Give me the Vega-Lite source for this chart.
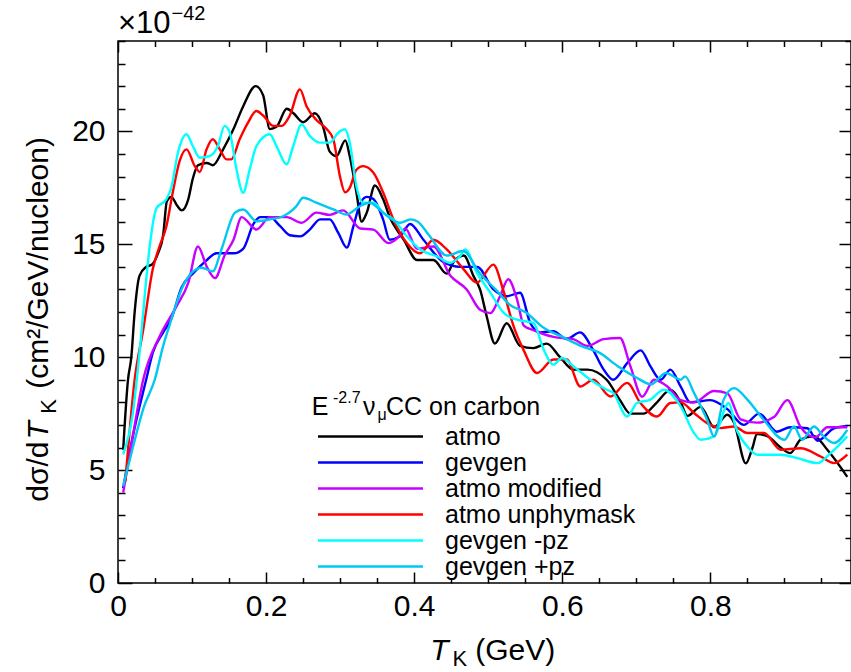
{
  "$schema": "https://vega.github.io/schema/vega-lite/v6.json",
  "width": 733,
  "height": 542,
  "autosize": "none",
  "padding": {"left": 118, "top": 41, "right": 0, "bottom": 89},
  "background": "white",
  "config": {
    "view": {"stroke": "#000", "strokeWidth": 1.5},
    "font": "Liberation Sans",
    "axis": {"grid": false, "domain": false, "tickColor": "#000", "tickWidth": 1.5, "labelColor": "#000", "labelFont": "Liberation Sans", "labelFontSize": 30, "labelOverlap": false, "labelFlush": false, "title": null}
  },
  "datasets": {
    "curves": [
      {"s":"atmo","x":0.007,"y":5.9},{"s":"atmo","x":0.0135,"y":9.0},{"s":"atmo","x":0.018,"y":10.0},{"s":"atmo","x":0.0225,"y":12.0},{"s":"atmo","x":0.029,"y":13.6},{"s":"atmo","x":0.038,"y":14.0},{"s":"atmo","x":0.046,"y":14.1},{"s":"atmo","x":0.054,"y":14.6},{"s":"atmo","x":0.061,"y":15.4},{"s":"atmo","x":0.066,"y":16.9},{"s":"atmo","x":0.072,"y":17.1},{"s":"atmo","x":0.08,"y":16.7},{"s":"atmo","x":0.086,"y":16.5},{"s":"atmo","x":0.095,"y":17.0},{"s":"atmo","x":0.101,"y":17.9},{"s":"atmo","x":0.108,"y":18.5},{"s":"atmo","x":0.12,"y":18.6},{"s":"atmo","x":0.128,"y":18.5},{"s":"atmo","x":0.142,"y":19.2},{"s":"atmo","x":0.156,"y":20.1},{"s":"atmo","x":0.169,"y":21.1},{"s":"atmo","x":0.186,"y":22.0},{"s":"atmo","x":0.196,"y":21.6},{"s":"atmo","x":0.205,"y":20.1},{"s":"atmo","x":0.214,"y":20.2},{"s":"atmo","x":0.228,"y":21.0},{"s":"atmo","x":0.237,"y":20.8},{"s":"atmo","x":0.25,"y":20.4},{"s":"atmo","x":0.266,"y":20.8},{"s":"atmo","x":0.277,"y":20.2},{"s":"atmo","x":0.286,"y":19.1},{"s":"atmo","x":0.295,"y":18.9},{"s":"atmo","x":0.307,"y":19.6},{"s":"atmo","x":0.313,"y":18.9},{"s":"atmo","x":0.322,"y":17.3},{"s":"atmo","x":0.329,"y":16.0},{"s":"atmo","x":0.336,"y":16.4},{"s":"atmo","x":0.347,"y":17.6},{"s":"atmo","x":0.358,"y":17.0},{"s":"atmo","x":0.367,"y":16.2},{"s":"atmo","x":0.386,"y":15.2},{"s":"atmo","x":0.404,"y":14.3},{"s":"atmo","x":0.426,"y":14.3},{"s":"atmo","x":0.444,"y":13.7},{"s":"atmo","x":0.453,"y":14.2},{"s":"atmo","x":0.467,"y":14.5},{"s":"atmo","x":0.48,"y":13.6},{"s":"atmo","x":0.489,"y":13.0},{"s":"atmo","x":0.498,"y":11.8},{"s":"atmo","x":0.509,"y":10.6},{"s":"atmo","x":0.525,"y":11.5},{"s":"atmo","x":0.543,"y":10.5},{"s":"atmo","x":0.561,"y":10.4},{"s":"atmo","x":0.579,"y":10.6},{"s":"atmo","x":0.597,"y":10.0},{"s":"atmo","x":0.615,"y":9.45},{"s":"atmo","x":0.634,"y":9.45},{"s":"atmo","x":0.66,"y":9.0},{"s":"atmo","x":0.678,"y":8.1},{"s":"atmo","x":0.692,"y":7.5},{"s":"atmo","x":0.71,"y":7.5},{"s":"atmo","x":0.728,"y":8.0},{"s":"atmo","x":0.746,"y":8.55},{"s":"atmo","x":0.76,"y":8.0},{"s":"atmo","x":0.769,"y":7.4},{"s":"atmo","x":0.787,"y":7.8},{"s":"atmo","x":0.805,"y":6.9},{"s":"atmo","x":0.823,"y":7.45},{"s":"atmo","x":0.832,"y":7.1},{"s":"atmo","x":0.848,"y":5.3},{"s":"atmo","x":0.857,"y":6.0},{"s":"atmo","x":0.863,"y":6.6},{"s":"atmo","x":0.877,"y":6.5},{"s":"atmo","x":0.895,"y":6.0},{"s":"atmo","x":0.908,"y":5.75},{"s":"atmo","x":0.922,"y":6.35},{"s":"atmo","x":0.94,"y":6.5},{"s":"atmo","x":0.958,"y":5.9},{"s":"atmo","x":0.985,"y":4.7},
      {"s":"gevgen","x":0.007,"y":4.2},{"s":"gevgen","x":0.02,"y":6.5},{"s":"gevgen","x":0.038,"y":9.0},{"s":"gevgen","x":0.047,"y":10.2},{"s":"gevgen","x":0.061,"y":11.1},{"s":"gevgen","x":0.072,"y":11.7},{"s":"gevgen","x":0.086,"y":13.1},{"s":"gevgen","x":0.101,"y":13.7},{"s":"gevgen","x":0.11,"y":14.0},{"s":"gevgen","x":0.12,"y":14.3},{"s":"gevgen","x":0.133,"y":14.6},{"s":"gevgen","x":0.156,"y":14.6},{"s":"gevgen","x":0.169,"y":14.8},{"s":"gevgen","x":0.183,"y":15.9},{"s":"gevgen","x":0.192,"y":16.2},{"s":"gevgen","x":0.205,"y":16.2},{"s":"gevgen","x":0.219,"y":15.8},{"s":"gevgen","x":0.232,"y":15.4},{"s":"gevgen","x":0.246,"y":15.35},{"s":"gevgen","x":0.259,"y":15.65},{"s":"gevgen","x":0.273,"y":16.1},{"s":"gevgen","x":0.286,"y":16.1},{"s":"gevgen","x":0.2975,"y":15.5},{"s":"gevgen","x":0.309,"y":14.85},{"s":"gevgen","x":0.318,"y":15.8},{"s":"gevgen","x":0.327,"y":16.8},{"s":"gevgen","x":0.336,"y":17.1},{"s":"gevgen","x":0.345,"y":17.0},{"s":"gevgen","x":0.358,"y":16.1},{"s":"gevgen","x":0.367,"y":15.2},{"s":"gevgen","x":0.381,"y":15.35},{"s":"gevgen","x":0.3945,"y":15.9},{"s":"gevgen","x":0.4125,"y":15.2},{"s":"gevgen","x":0.44,"y":14.2},{"s":"gevgen","x":0.462,"y":14.0},{"s":"gevgen","x":0.485,"y":14.0},{"s":"gevgen","x":0.507,"y":13.0},{"s":"gevgen","x":0.525,"y":12.7},{"s":"gevgen","x":0.543,"y":12.85},{"s":"gevgen","x":0.557,"y":11.5},{"s":"gevgen","x":0.57,"y":11.1},{"s":"gevgen","x":0.588,"y":11.15},{"s":"gevgen","x":0.606,"y":10.8},{"s":"gevgen","x":0.624,"y":11.1},{"s":"gevgen","x":0.642,"y":10.3},{"s":"gevgen","x":0.656,"y":9.45},{"s":"gevgen","x":0.669,"y":9.0},{"s":"gevgen","x":0.688,"y":9.75},{"s":"gevgen","x":0.706,"y":10.3},{"s":"gevgen","x":0.719,"y":9.6},{"s":"gevgen","x":0.733,"y":9.0},{"s":"gevgen","x":0.746,"y":9.45},{"s":"gevgen","x":0.76,"y":8.7},{"s":"gevgen","x":0.773,"y":8.0},{"s":"gevgen","x":0.8,"y":8.1},{"s":"gevgen","x":0.823,"y":7.7},{"s":"gevgen","x":0.845,"y":7.0},{"s":"gevgen","x":0.866,"y":7.5},{"s":"gevgen","x":0.89,"y":6.7},{"s":"gevgen","x":0.908,"y":6.9},{"s":"gevgen","x":0.931,"y":6.85},{"s":"gevgen","x":0.945,"y":6.3},{"s":"gevgen","x":0.967,"y":6.85},{"s":"gevgen","x":0.985,"y":6.95},
      {"s":"atmo modified","x":0.007,"y":4.0},{"s":"atmo modified","x":0.02,"y":6.5},{"s":"atmo modified","x":0.034,"y":9.0},{"s":"atmo modified","x":0.056,"y":10.9},{"s":"atmo modified","x":0.079,"y":12.25},{"s":"atmo modified","x":0.095,"y":13.3},{"s":"atmo modified","x":0.108,"y":14.9},{"s":"atmo modified","x":0.12,"y":14.0},{"s":"atmo modified","x":0.131,"y":13.5},{"s":"atmo modified","x":0.144,"y":14.5},{"s":"atmo modified","x":0.156,"y":15.2},{"s":"atmo modified","x":0.167,"y":16.2},{"s":"atmo modified","x":0.187,"y":15.65},{"s":"atmo modified","x":0.205,"y":16.2},{"s":"atmo modified","x":0.228,"y":16.2},{"s":"atmo modified","x":0.248,"y":15.95},{"s":"atmo modified","x":0.268,"y":16.4},{"s":"atmo modified","x":0.286,"y":16.3},{"s":"atmo modified","x":0.304,"y":16.5},{"s":"atmo modified","x":0.327,"y":15.7},{"s":"atmo modified","x":0.345,"y":15.65},{"s":"atmo modified","x":0.365,"y":15.05},{"s":"atmo modified","x":0.381,"y":15.4},{"s":"atmo modified","x":0.388,"y":15.7},{"s":"atmo modified","x":0.404,"y":14.8},{"s":"atmo modified","x":0.426,"y":14.9},{"s":"atmo modified","x":0.449,"y":13.6},{"s":"atmo modified","x":0.471,"y":13.0},{"s":"atmo modified","x":0.489,"y":12.1},{"s":"atmo modified","x":0.503,"y":11.95},{"s":"atmo modified","x":0.516,"y":12.7},{"s":"atmo modified","x":0.527,"y":13.45},{"s":"atmo modified","x":0.539,"y":12.55},{"s":"atmo modified","x":0.548,"y":11.4},{"s":"atmo modified","x":0.561,"y":11.2},{"s":"atmo modified","x":0.588,"y":10.9},{"s":"atmo modified","x":0.615,"y":10.8},{"s":"atmo modified","x":0.634,"y":10.5},{"s":"atmo modified","x":0.656,"y":10.8},{"s":"atmo modified","x":0.678,"y":10.85},{"s":"atmo modified","x":0.692,"y":9.6},{"s":"atmo modified","x":0.708,"y":8.25},{"s":"atmo modified","x":0.724,"y":9.0},{"s":"atmo modified","x":0.742,"y":8.7},{"s":"atmo modified","x":0.76,"y":8.1},{"s":"atmo modified","x":0.778,"y":8.0},{"s":"atmo modified","x":0.805,"y":8.5},{"s":"atmo modified","x":0.823,"y":8.4},{"s":"atmo modified","x":0.841,"y":7.25},{"s":"atmo modified","x":0.863,"y":7.1},{"s":"atmo modified","x":0.886,"y":7.35},{"s":"atmo modified","x":0.904,"y":8.1},{"s":"atmo modified","x":0.922,"y":6.9},{"s":"atmo modified","x":0.942,"y":6.45},{"s":"atmo modified","x":0.958,"y":6.9},{"s":"atmo modified","x":0.985,"y":6.9},
      {"s":"atmo unphymask","x":0.01,"y":4.5},{"s":"atmo unphymask","x":0.0225,"y":9.0},{"s":"atmo unphymask","x":0.034,"y":11.2},{"s":"atmo unphymask","x":0.047,"y":13.9},{"s":"atmo unphymask","x":0.056,"y":14.9},{"s":"atmo unphymask","x":0.0654,"y":15.8},{"s":"atmo unphymask","x":0.074,"y":17.3},{"s":"atmo unphymask","x":0.0834,"y":18.7},{"s":"atmo unphymask","x":0.0925,"y":19.2},{"s":"atmo unphymask","x":0.1037,"y":18.46},{"s":"atmo unphymask","x":0.1105,"y":18.2},{"s":"atmo unphymask","x":0.1196,"y":19.2},{"s":"atmo unphymask","x":0.128,"y":19.65},{"s":"atmo unphymask","x":0.1375,"y":19.2},{"s":"atmo unphymask","x":0.1466,"y":18.76},{"s":"atmo unphymask","x":0.153,"y":18.76},{"s":"atmo unphymask","x":0.1643,"y":19.65},{"s":"atmo unphymask","x":0.1758,"y":20.4},{"s":"atmo unphymask","x":0.187,"y":20.9},{"s":"atmo unphymask","x":0.196,"y":20.7},{"s":"atmo unphymask","x":0.21,"y":20.24},{"s":"atmo unphymask","x":0.221,"y":20.24},{"s":"atmo unphymask","x":0.232,"y":20.7},{"s":"atmo unphymask","x":0.2457,"y":21.86},{"s":"atmo unphymask","x":0.2548,"y":21.1},{"s":"atmo unphymask","x":0.268,"y":20.5},{"s":"atmo unphymask","x":0.2818,"y":20.1},{"s":"atmo unphymask","x":0.2908,"y":19.65},{"s":"atmo unphymask","x":0.2998,"y":18.0},{"s":"atmo unphymask","x":0.3066,"y":17.3},{"s":"atmo unphymask","x":0.313,"y":17.5},{"s":"atmo unphymask","x":0.322,"y":18.3},{"s":"atmo unphymask","x":0.331,"y":18.46},{"s":"atmo unphymask","x":0.345,"y":18.17},{"s":"atmo unphymask","x":0.358,"y":17.3},{"s":"atmo unphymask","x":0.372,"y":16.1},{"s":"atmo unphymask","x":0.39,"y":15.06},{"s":"atmo unphymask","x":0.408,"y":14.6},{"s":"atmo unphymask","x":0.426,"y":15.2},{"s":"atmo unphymask","x":0.444,"y":14.77},{"s":"atmo unphymask","x":0.4666,"y":13.9},{"s":"atmo unphymask","x":0.4847,"y":13.3},{"s":"atmo unphymask","x":0.507,"y":14.1},{"s":"atmo unphymask","x":0.52,"y":13.0},{"s":"atmo unphymask","x":0.534,"y":11.4},{"s":"atmo unphymask","x":0.548,"y":10.3},{"s":"atmo unphymask","x":0.566,"y":9.3},{"s":"atmo unphymask","x":0.588,"y":9.9},{"s":"atmo unphymask","x":0.606,"y":9.9},{"s":"atmo unphymask","x":0.6244,"y":8.7},{"s":"atmo unphymask","x":0.642,"y":9.0},{"s":"atmo unphymask","x":0.665,"y":8.26},{"s":"atmo unphymask","x":0.6876,"y":8.86},{"s":"atmo unphymask","x":0.7056,"y":7.97},{"s":"atmo unphymask","x":0.728,"y":7.37},{"s":"atmo unphymask","x":0.746,"y":7.97},{"s":"atmo unphymask","x":0.76,"y":8.0},{"s":"atmo unphymask","x":0.778,"y":7.53},{"s":"atmo unphymask","x":0.7957,"y":7.08},{"s":"atmo unphymask","x":0.8138,"y":6.86},{"s":"atmo unphymask","x":0.832,"y":6.93},{"s":"atmo unphymask","x":0.85,"y":6.64},{"s":"atmo unphymask","x":0.8724,"y":6.64},{"s":"atmo unphymask","x":0.895,"y":5.9},{"s":"atmo unphymask","x":0.922,"y":5.97},{"s":"atmo unphymask","x":0.949,"y":5.6},{"s":"atmo unphymask","x":0.967,"y":5.31},{"s":"atmo unphymask","x":0.985,"y":5.68},
      {"s":"gevgen -pz","x":0.007,"y":5.7},{"s":"gevgen -pz","x":0.02,"y":7.5},{"s":"gevgen -pz","x":0.03,"y":10.5},{"s":"gevgen -pz","x":0.038,"y":13.4},{"s":"gevgen -pz","x":0.0428,"y":14.9},{"s":"gevgen -pz","x":0.052,"y":16.6},{"s":"gevgen -pz","x":0.0654,"y":17.0},{"s":"gevgen -pz","x":0.072,"y":17.5},{"s":"gevgen -pz","x":0.081,"y":19.06},{"s":"gevgen -pz","x":0.0925,"y":19.87},{"s":"gevgen -pz","x":0.101,"y":19.35},{"s":"gevgen -pz","x":0.1105,"y":18.83},{"s":"gevgen -pz","x":0.124,"y":18.91},{"s":"gevgen -pz","x":0.135,"y":19.35},{"s":"gevgen -pz","x":0.144,"y":20.24},{"s":"gevgen -pz","x":0.151,"y":19.94},{"s":"gevgen -pz","x":0.16,"y":18.32},{"s":"gevgen -pz","x":0.169,"y":17.28},{"s":"gevgen -pz","x":0.178,"y":18.32},{"s":"gevgen -pz","x":0.187,"y":19.35},{"s":"gevgen -pz","x":0.205,"y":19.87},{"s":"gevgen -pz","x":0.214,"y":19.35},{"s":"gevgen -pz","x":0.2277,"y":18.54},{"s":"gevgen -pz","x":0.2367,"y":19.35},{"s":"gevgen -pz","x":0.248,"y":20.31},{"s":"gevgen -pz","x":0.259,"y":19.8},{"s":"gevgen -pz","x":0.2727,"y":19.5},{"s":"gevgen -pz","x":0.286,"y":19.5},{"s":"gevgen -pz","x":0.2975,"y":19.94},{"s":"gevgen -pz","x":0.3066,"y":20.09},{"s":"gevgen -pz","x":0.313,"y":19.5},{"s":"gevgen -pz","x":0.322,"y":17.57},{"s":"gevgen -pz","x":0.331,"y":16.84},{"s":"gevgen -pz","x":0.345,"y":16.84},{"s":"gevgen -pz","x":0.358,"y":16.4},{"s":"gevgen -pz","x":0.372,"y":16.1},{"s":"gevgen -pz","x":0.39,"y":15.36},{"s":"gevgen -pz","x":0.408,"y":14.77},{"s":"gevgen -pz","x":0.4306,"y":14.47},{"s":"gevgen -pz","x":0.4486,"y":14.18},{"s":"gevgen -pz","x":0.462,"y":14.47},{"s":"gevgen -pz","x":0.469,"y":14.77},{"s":"gevgen -pz","x":0.4847,"y":13.73},{"s":"gevgen -pz","x":0.503,"y":12.85},{"s":"gevgen -pz","x":0.521,"y":11.96},{"s":"gevgen -pz","x":0.539,"y":11.66},{"s":"gevgen -pz","x":0.561,"y":11.52},{"s":"gevgen -pz","x":0.575,"y":10.33},{"s":"gevgen -pz","x":0.588,"y":9.67},{"s":"gevgen -pz","x":0.5997,"y":9.96},{"s":"gevgen -pz","x":0.6154,"y":9.59},{"s":"gevgen -pz","x":0.638,"y":9.0},{"s":"gevgen -pz","x":0.66,"y":8.56},{"s":"gevgen -pz","x":0.669,"y":8.41},{"s":"gevgen -pz","x":0.6876,"y":7.37},{"s":"gevgen -pz","x":0.701,"y":7.97},{"s":"gevgen -pz","x":0.719,"y":8.12},{"s":"gevgen -pz","x":0.737,"y":8.56},{"s":"gevgen -pz","x":0.76,"y":7.82},{"s":"gevgen -pz","x":0.778,"y":6.64},{"s":"gevgen -pz","x":0.787,"y":6.34},{"s":"gevgen -pz","x":0.805,"y":6.49},{"s":"gevgen -pz","x":0.825,"y":7.97},{"s":"gevgen -pz","x":0.834,"y":6.93},{"s":"gevgen -pz","x":0.85,"y":6.04},{"s":"gevgen -pz","x":0.8634,"y":5.68},{"s":"gevgen -pz","x":0.895,"y":5.68},{"s":"gevgen -pz","x":0.9175,"y":5.53},{"s":"gevgen -pz","x":0.9446,"y":5.31},{"s":"gevgen -pz","x":0.9625,"y":5.75},{"s":"gevgen -pz","x":0.985,"y":6.49},
      {"s":"gevgen +pz","x":0.007,"y":4.3},{"s":"gevgen +pz","x":0.02,"y":6.0},{"s":"gevgen +pz","x":0.035,"y":7.8},{"s":"gevgen +pz","x":0.0496,"y":9.0},{"s":"gevgen +pz","x":0.061,"y":10.5},{"s":"gevgen +pz","x":0.072,"y":11.66},{"s":"gevgen +pz","x":0.0857,"y":13.0},{"s":"gevgen +pz","x":0.0993,"y":13.73},{"s":"gevgen +pz","x":0.1128,"y":13.96},{"s":"gevgen +pz","x":0.128,"y":13.8},{"s":"gevgen +pz","x":0.14,"y":14.8},{"s":"gevgen +pz","x":0.158,"y":16.4},{"s":"gevgen +pz","x":0.169,"y":16.54},{"s":"gevgen +pz","x":0.187,"y":16.02},{"s":"gevgen +pz","x":0.205,"y":16.1},{"s":"gevgen +pz","x":0.223,"y":16.24},{"s":"gevgen +pz","x":0.241,"y":16.69},{"s":"gevgen +pz","x":0.25,"y":17.06},{"s":"gevgen +pz","x":0.268,"y":16.84},{"s":"gevgen +pz","x":0.2908,"y":16.54},{"s":"gevgen +pz","x":0.3087,"y":16.32},{"s":"gevgen +pz","x":0.327,"y":16.69},{"s":"gevgen +pz","x":0.34,"y":16.84},{"s":"gevgen +pz","x":0.358,"y":16.4},{"s":"gevgen +pz","x":0.37,"y":16.1},{"s":"gevgen +pz","x":0.381,"y":15.95},{"s":"gevgen +pz","x":0.395,"y":16.1},{"s":"gevgen +pz","x":0.405,"y":16.0},{"s":"gevgen +pz","x":0.42,"y":15.4},{"s":"gevgen +pz","x":0.444,"y":14.5},{"s":"gevgen +pz","x":0.466,"y":14.7},{"s":"gevgen +pz","x":0.489,"y":13.7},{"s":"gevgen +pz","x":0.51,"y":13.0},{"s":"gevgen +pz","x":0.53,"y":12.3},{"s":"gevgen +pz","x":0.55,"y":12.0},{"s":"gevgen +pz","x":0.575,"y":11.3},{"s":"gevgen +pz","x":0.6,"y":10.9},{"s":"gevgen +pz","x":0.625,"y":10.5},{"s":"gevgen +pz","x":0.65,"y":10.2},{"s":"gevgen +pz","x":0.675,"y":9.6},{"s":"gevgen +pz","x":0.7,"y":9.1},{"s":"gevgen +pz","x":0.72,"y":8.8},{"s":"gevgen +pz","x":0.74,"y":9.3},{"s":"gevgen +pz","x":0.76,"y":9.0},{"s":"gevgen +pz","x":0.766,"y":9.15},{"s":"gevgen +pz","x":0.778,"y":8.41},{"s":"gevgen +pz","x":0.7957,"y":7.23},{"s":"gevgen +pz","x":0.805,"y":6.49},{"s":"gevgen +pz","x":0.818,"y":8.12},{"s":"gevgen +pz","x":0.832,"y":8.63},{"s":"gevgen +pz","x":0.85,"y":8.12},{"s":"gevgen +pz","x":0.872,"y":7.23},{"s":"gevgen +pz","x":0.9,"y":6.34},{"s":"gevgen +pz","x":0.913,"y":6.93},{"s":"gevgen +pz","x":0.924,"y":6.34},{"s":"gevgen +pz","x":0.94,"y":6.93},{"s":"gevgen +pz","x":0.953,"y":6.49},{"s":"gevgen +pz","x":0.967,"y":6.2},{"s":"gevgen +pz","x":0.985,"y":6.78}
    ]
  },
  "layer": [
    {
      "data": {"name": "curves"},
      "mark": {"type": "line", "interpolate": "monotone", "strokeWidth": 2.4},
      "encoding": {
        "x": {"field": "x", "type": "quantitative", "scale": {"domain": [0, 0.99], "nice": false, "zero": false},
          "axis": {"orient": "bottom", "values": [0,0.05,0.1,0.15,0.2,0.25,0.3,0.35,0.4,0.45,0.5,0.55,0.6,0.65,0.7,0.75,0.8,0.85,0.9,0.95],
            "labelExpr": "abs(datum.value*5-round(datum.value*5))<1e-6 ? format(datum.value,'~g') : ''",
            "tickSize": {"condition": {"test": "abs(datum.value*5-round(datum.value*5))<1e-6", "value": -11}, "value": -5.5},
            "labelPadding": 19, "labelBaseline": "top"}},
        "y": {"field": "y", "type": "quantitative", "scale": {"domain": [0, 24], "nice": false, "zero": true},
          "axis": {"orient": "left", "values": [0,1,2,3,4,5,6,7,8,9,10,11,12,13,14,15,16,17,18,19,20,21,22,23,24],
            "labelExpr": "datum.value % 5 == 0 ? datum.label : ''",
            "tickSize": {"condition": {"test": "datum.value % 5 == 0", "value": -14}, "value": -7},
            "labelPadding": 27}},
        "color": {"field": "s", "type": "nominal",
          "scale": {"domain": ["atmo", "gevgen", "atmo modified", "atmo unphymask", "gevgen -pz", "gevgen +pz"],
                    "range": ["#000000", "#0000ff", "#c800ff", "#ff0000", "#00ffff", "#00c8f0"]},
          "legend": {"orient": "none", "legendX": 198, "legendY": 383, "title": null, "symbolType": "M-5.25,0H5.25", "symbolSize": 400, "symbolStrokeWidth": 2.4, "symbolOffset": 42, "labelOffset": 62, "labelFontSize": 25, "labelFont": "Liberation Sans", "labelColor": "#000", "rowPadding": 0, "padding": 0, "labelLimit": 400}}
      }
    },
    {
      "data": {"name": "curves"},
      "mark": {"type": "point", "opacity": 0},
      "encoding": {
        "x": {"field": "x", "type": "quantitative",
          "axis": {"orient": "top", "labels": false, "values": [0,0.05,0.1,0.15,0.2,0.25,0.3,0.35,0.4,0.45,0.5,0.55,0.6,0.65,0.7,0.75,0.8,0.85,0.9,0.95],
            "tickSize": {"condition": {"test": "abs(datum.value*5-round(datum.value*5))<1e-6", "value": -11}, "value": -5.5}}},
        "y": {"field": "y", "type": "quantitative",
          "axis": {"orient": "right", "labels": false, "values": [0,1,2,3,4,5,6,7,8,9,10,11,12,13,14,15,16,17,18,19,20,21,22,23,24],
            "tickSize": {"condition": {"test": "datum.value % 5 == 0", "value": -12}, "value": -6}}}
      }
    },
    {"data": {"values": [{}]}, "mark": {"type": "text", "text": "T", "align": "left", "baseline": "alphabetic", "fontSize": 30, "fontStyle": "italic", "font": "Liberation Sans"},
      "encoding": {"x": {"datum": 0.4216, "type": "quantitative", "axis": null}, "y": {"datum": -3.39, "type": "quantitative", "axis": null}}},
    {"data": {"values": [{}]}, "mark": {"type": "text", "text": "K", "align": "left", "baseline": "alphabetic", "fontSize": 22, "font": "Liberation Sans"},
      "encoding": {"x": {"datum": 0.4518, "type": "quantitative", "axis": null}, "y": {"datum": -3.67, "type": "quantitative", "axis": null}}},
    {"data": {"values": [{}]}, "mark": {"type": "text", "text": "(GeV)", "align": "left", "baseline": "alphabetic", "fontSize": 30, "font": "Liberation Sans"},
      "encoding": {"x": {"datum": 0.4824, "type": "quantitative", "axis": null}, "y": {"datum": -3.39, "type": "quantitative", "axis": null}}},
    {"data": {"values": [{}]}, "mark": {"type": "text", "text": "dσ/d", "angle": 270, "align": "left", "baseline": "alphabetic", "fontSize": 30, "font": "Liberation Sans"},
      "encoding": {"x": {"datum": -0.0947, "type": "quantitative", "axis": null}, "y": {"datum": 3.6, "type": "quantitative", "axis": null}}},
    {"data": {"values": [{}]}, "mark": {"type": "text", "text": "T", "angle": 270, "align": "left", "baseline": "alphabetic", "fontSize": 30, "fontStyle": "italic", "font": "Liberation Sans"},
      "encoding": {"x": {"datum": -0.0947, "type": "quantitative", "axis": null}, "y": {"datum": 6.35, "type": "quantitative", "axis": null}}},
    {"data": {"values": [{}]}, "mark": {"type": "text", "text": "K", "angle": 270, "align": "left", "baseline": "alphabetic", "fontSize": 22, "font": "Liberation Sans"},
      "encoding": {"x": {"datum": -0.0843, "type": "quantitative", "axis": null}, "y": {"datum": 7.5, "type": "quantitative", "axis": null}}},
    {"data": {"values": [{}]}, "mark": {"type": "text", "text": "(cm²/GeV/nucleon)", "angle": 270, "align": "left", "baseline": "alphabetic", "fontSize": 30, "font": "Liberation Sans"},
      "encoding": {"x": {"datum": -0.0947, "type": "quantitative", "axis": null}, "y": {"datum": 8.6, "type": "quantitative", "axis": null}}},
    {"data": {"values": [{}]}, "mark": {"type": "text", "text": "×10", "align": "left", "baseline": "alphabetic", "fontSize": 31, "font": "Liberation Sans"},
      "encoding": {"x": {"datum": 0.0, "type": "quantitative", "axis": null}, "y": {"datum": 24.34, "type": "quantitative", "axis": null}}},
    {"data": {"values": [{}]}, "mark": {"type": "text", "text": "−42", "align": "left", "baseline": "alphabetic", "fontSize": 20, "font": "Liberation Sans"},
      "encoding": {"x": {"datum": 0.0722, "type": "quantitative", "axis": null}, "y": {"datum": 24.93, "type": "quantitative", "axis": null}}},
    {"data": {"values": [{}]}, "mark": {"type": "text", "text": "E", "align": "left", "baseline": "alphabetic", "fontSize": 25, "font": "Liberation Sans"},
      "encoding": {"x": {"datum": 0.2616, "type": "quantitative", "axis": null}, "y": {"datum": 7.42, "type": "quantitative", "axis": null}}},
    {"data": {"values": [{}]}, "mark": {"type": "text", "text": "-2.7", "align": "left", "baseline": "alphabetic", "fontSize": 16, "font": "Liberation Sans"},
      "encoding": {"x": {"datum": 0.2904, "type": "quantitative", "axis": null}, "y": {"datum": 7.99, "type": "quantitative", "axis": null}}},
    {"data": {"values": [{}]}, "mark": {"type": "text", "text": "ν", "align": "left", "baseline": "alphabetic", "fontSize": 25, "font": "Liberation Sans"},
      "encoding": {"x": {"datum": 0.331, "type": "quantitative", "axis": null}, "y": {"datum": 7.42, "type": "quantitative", "axis": null}}},
    {"data": {"values": [{}]}, "mark": {"type": "text", "text": "μ", "align": "left", "baseline": "alphabetic", "fontSize": 16, "font": "Liberation Sans"},
      "encoding": {"x": {"datum": 0.3506, "type": "quantitative", "axis": null}, "y": {"datum": 7.2, "type": "quantitative", "axis": null}}},
    {"data": {"values": [{}]}, "mark": {"type": "text", "text": "CC on carbon", "align": "left", "baseline": "alphabetic", "fontSize": 25, "font": "Liberation Sans"},
      "encoding": {"x": {"datum": 0.362, "type": "quantitative", "axis": null}, "y": {"datum": 7.42, "type": "quantitative", "axis": null}}}
  ],
  "resolve": {"axis": {"x": "independent", "y": "independent"}}
}
